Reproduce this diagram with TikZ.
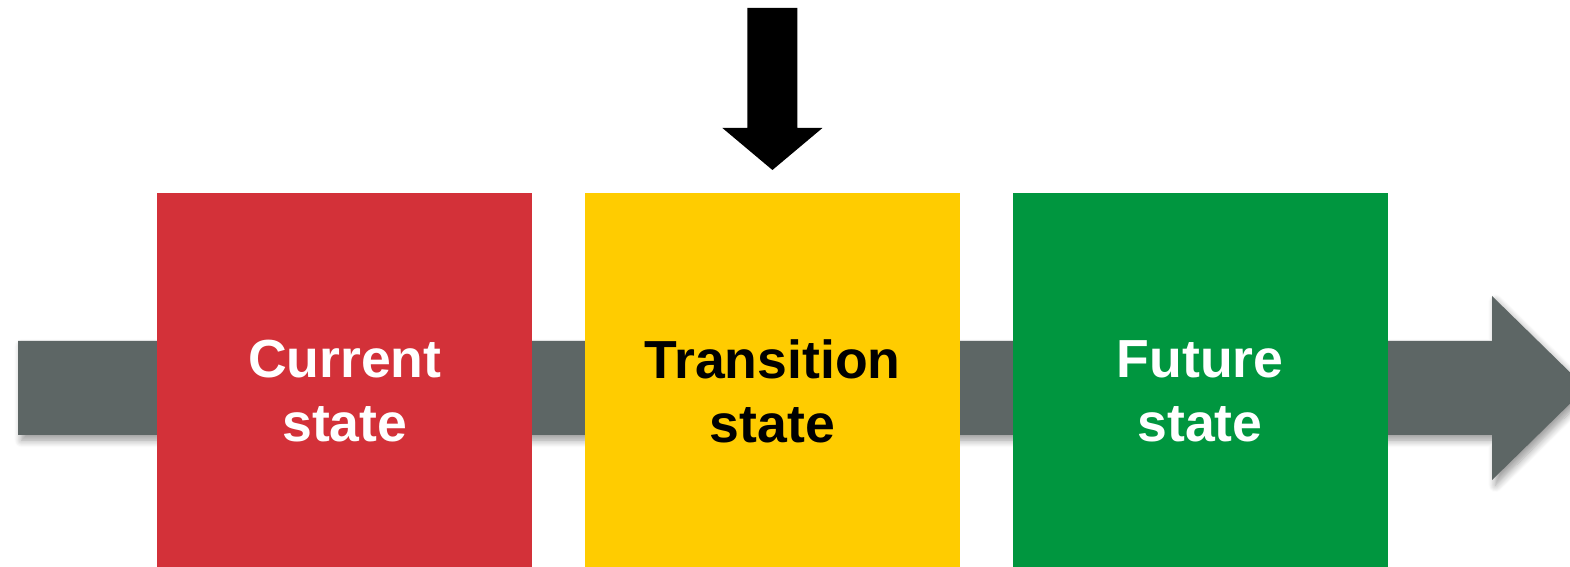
\documentclass[tikz,border=0pt]{standalone}
\usepackage{fontspec}
\setmainfont{Liberation Sans}
\usetikzlibrary{positioning, shadows.blur}

\definecolor{stred}{HTML}{D33139}
\definecolor{styellow}{HTML}{FFCC00}
\definecolor{stgreen}{HTML}{00963F}
\definecolor{stgray}{HTML}{5D6665}

\begin{document}
\begin{tikzpicture}[x=0.02cm, y=-0.02cm, node distance=1.04cm,
    statebox/.style={minimum width=7.5cm, minimum height=7.48cm, inner sep=0pt},
    every label/.style={align=center, yshift=-0.22cm, text=white,
        font=\fontsize{30.5}{36.5}\selectfont\bfseries},
    timeline/.style={fill=stgray, blur shadow={shadow xshift=2pt, shadow yshift=-3pt,
        shadow blur steps=8, shadow blur radius=4pt, shadow opacity=40}}]
    \useasboundingbox (0,0) rectangle (1570,567);
    \clip (0,0) rectangle (1570,567);
    % time line
    \fill[timeline] (18,341) -- (1492,341) -- (1492,296) -- (1586,388)
        -- (1492,480) -- (1492,435) -- (18,435) -- cycle;
    % the three states
    \node[statebox, fill=stred, anchor=north west,
        label={center:Current\\state}] (cur) at (157,193) {};
    \node[statebox, fill=styellow, right=of cur,
        label={[text=black]center:Transition\\state}] (trans) {};
    \node[statebox, fill=stgreen, right=of trans,
        label={center:Future\\state}] (fut) {};
    % marker above the middle state
    \coordinate (tip) at ([yshift=0.46cm]trans.north);
    \fill[black] (tip) -- ++(-50,-42) -- ++(25,0) -- ++(0,-120) -- ++(50,0)
        -- ++(0,120) -- ++(25,0) -- cycle;
\end{tikzpicture}
\end{document}
